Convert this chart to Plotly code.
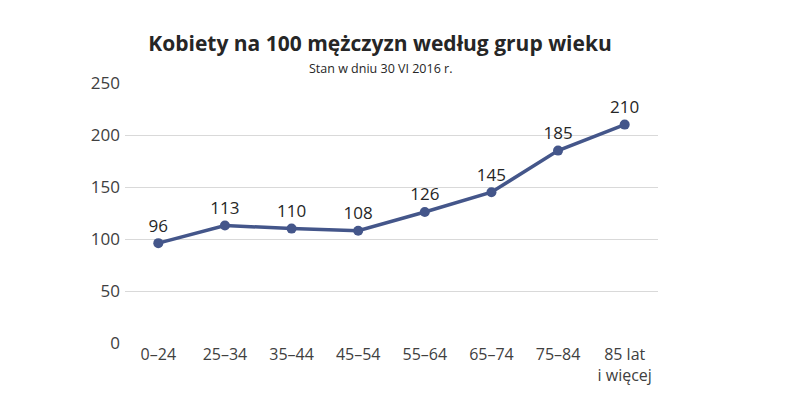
import plotly.graph_objects as go

categories = ["0–24", "25–34", "35–44", "45–54", "55–64", "65–74", "75–84", "85 lat<br>i więcej"]
values = [96, 113, 110, 108, 126, 145, 185, 210]
y_ticks = [0, 50, 100, 150, 200, 250]

font_family = "Open Sans, Noto Sans, sans-serif"
line_color = "#44568A"

# page body has an 8px default margin; compensate so screen positions match
OFF = 8
W, H = 790, 395
L, T = 125 - OFF, 83 - OFF
R = W - (658 - OFF)
B = H - (343 - OFF)

fig = go.Figure()
fig.add_trace(go.Scatter(
    x=categories, y=values,
    mode="lines+markers+text",
    text=[str(v) for v in values],
    textposition="top center",
    textfont=dict(size=17, color="#262626", family=font_family),
    line=dict(color=line_color, width=3.5),
    marker=dict(color=line_color, size=10),
    cliponaxis=False,
    hoverinfo="skip",
))

fig.update_layout(
    width=W, height=H,
    margin=dict(l=L, r=R, t=T, b=B, autoexpand=False),
    paper_bgcolor="white", plot_bgcolor="white",
    showlegend=False,
    font=dict(family=font_family, color="#404040"),
    title=dict(
        text="<b>Kobiety na 100 mężczyzn według grup wieku</b>",
        x=(380 - OFF) / W, xref="container", xanchor="center",
        y=1 - (44 - OFF) / H, yref="container", yanchor="middle",
        font=dict(size=21, color="#262626", family=font_family),
    ),
    annotations=[dict(
        text="Stan w dniu 30 VI 2016 r.",
        x=(380 - OFF - L) / (W - L - R), xref="paper",
        y=(H - B - (69 - OFF)) / (H - T - B), yref="paper",
        xanchor="center", yanchor="middle", showarrow=False,
        font=dict(size=12.5, color="#262626", family=font_family),
    )],
    xaxis=dict(
        type="category", showgrid=False, zeroline=False,
        showline=False, ticks="", automargin=False,
        tickfont=dict(size=16, color="#404040"),
        range=[-0.5, 7.5],
    ),
    yaxis=dict(
        range=[0, 250], tickvals=y_ticks, automargin=False,
        showgrid=True, gridcolor="#D9D9D9", gridwidth=1,
        zeroline=False, showline=False, ticks="",
        tickfont=dict(size=17, color="#404040"),
        ticklabelstandoff=4,
    ),
)

fig.write_html("out.html")
